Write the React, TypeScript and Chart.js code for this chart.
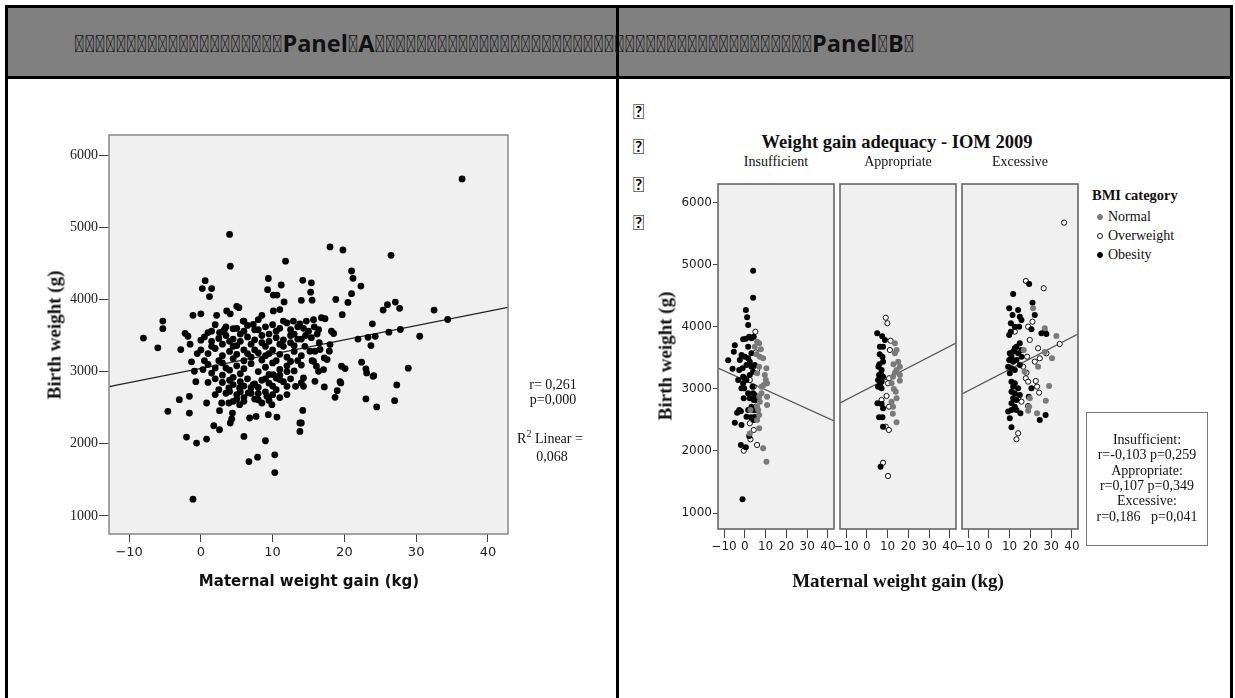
import React, { useEffect, useRef } from "react";
import { Chart, registerables } from "chart.js";
Chart.register(...registerables);

type Pt = [number, number];

// ---------- axis ticks ----------
const xTicks = [-10, 0, 10, 20, 30, 40];
const xTickLabels = ["\u221210", "0", "10", "20", "30", "40"];
const yTicks = [1000, 2000, 3000, 4000, 5000, 6000];
const yTickLabels = ["1000", "2000", "3000", "4000", "5000", "6000"];

// ---------- Panel A: all women ----------
const panelA: Pt[] = [
  [4, 4900], [4.1, 4460], [11.8, 4530], [0.6, 4260], [0.2, 4150], [1.5, 4150], [1.2, 4040], [9.4, 4290],
  [11.2, 4200], [14.2, 4265], [15.4, 4230], [9.3, 4135], [10.1, 4060], [10.6, 4060], [11.6, 3965], [15.5, 3990],
  [15.3, 4100], [-8, 3465], [-6, 3330], [-5.3, 3595], [-5.3, 3700], [-2.8, 3305], [-2.2, 3530], [-1.8, 3490],
  [-1.3, 3135], [-1.1, 3780], [0, 3800], [-0.9, 3005], [0, 3435], [1, 3540], [1.5, 3560], [2.6, 3540],
  [2.2, 3780], [3.6, 3840], [4.1, 3800], [5, 3905], [5.3, 3885], [3.3, 3585], [4.5, 3595], [5.9, 3700],
  [7.3, 3655], [8.5, 3780], [10.1, 3840], [11, 3860], [12, 3675], [12.9, 3700], [13.8, 3660], [14.7, 3700],
  [15.7, 3720],
  [36.4, 5670], [18, 4727], [19.8, 4685], [26.5, 4611], [21, 4394], [21.2, 4292], [22.3, 4185], [21, 4080],
  [20.5, 3959], [18.8, 4000], [19.7, 3788], [14, 3987], [25.4, 3852], [26, 3927], [27.1, 3963], [27.7, 3876],
  [32.5, 3852], [34.4, 3722], [23.9, 3662], [30.5, 3490], [26.2, 3546], [27.8, 3583], [23.3, 3475], [24.3, 3489],
  [21.9, 3451], [23.7, 3361], [18.2, 3560], [18.5, 3528], [16.8, 3746], [17.3, 3732], [18, 3375], [17.9, 3282],
  [17.6, 3167], [17.2, 3190], [16.6, 3306], [15.2, 3282], [15.9, 3282], [22.4, 3130], [23, 3038], [23.1, 2982],
  [24, 2935], [19.6, 3074], [20.1, 3042], [15.7, 3143], [16.1, 3074], [16.4, 3004], [17.1, 3028], [28.9, 3047],
  [27.3, 2815], [19.4, 2861], [14.3, 2913], [14, 2843], [14.3, 3600], [15, 3560], [15.8, 3620], [16.4, 3580],
  [14.6, 3500], [15.4, 3470], [16.2, 3520], [14, 3450],
  [15.9, 2865], [17.2, 2788], [14.2, 2462], [14, 2288], [18.7, 2643], [19, 2736], [19.5, 2843], [23, 2621],
  [24.5, 2510], [24.1, 2944], [27, 2597],
  [-1.1, 1232], [-4.6, 2449], [-3, 2611], [-1.6, 2657], [-1.6, 2426], [-2, 2093], [-0.6, 2010], [0.8, 2065],
  [-0.7, 2861], [0.3, 3028], [0.8, 2565], [2, 2681], [2.9, 2565], [2.6, 2458], [1.8, 2250], [2.6, 2194],
  [4.1, 2288], [4.3, 2343], [4.4, 2426], [6, 2102], [6.7, 1754], [7.9, 1815], [9, 2042], [10.3, 1847],
  [10.3, 1601], [10.6, 2370], [9.4, 2403], [9.9, 2542], [8.5, 2565], [6.8, 2357], [7.7, 2379], [3.9, 2773],
  [4, 2726], [4.5, 2820], [5.4, 2773], [3.9, 2565], [4.5, 2588], [5.4, 2542], [6, 2588], [6.6, 2704],
  [7.3, 2820], [8, 2695], [9.2, 2657], [10.1, 2958], [11, 2889], [12, 2796], [12, 2681], [13.8, 2171],
  [13.8, 2288], [13.2, 2796], [14.3, 2796],
  [2, 3650], [3.5, 3620], [5, 3600], [6.5, 3640], [7.5, 3580], [9, 3620], [10, 3650], [11, 3600],
  [12.5, 3580], [13.5, 3620], [6, 3700], [8, 3720], [0.5, 3480], [1.5, 3420], [2.5, 3460], [3.5, 3500],
  [4.5, 3450], [5.5, 3420], [6.5, 3480], [7.5, 3440], [8.5, 3500], [9.5, 3420], [10.5, 3470], [11.5, 3440],
  [12.5, 3500], [13.5, 3450], [3, 3380], [5, 3360], [7, 3380], [9, 3350], [11, 3380], [13, 3360],
  [0, 3300], [1, 3250], [2, 3320], [3, 3220], [4, 3280], [5, 3240], [6, 3300], [7, 3200],
  [8, 3260], [9, 3220], [10, 3300], [11, 3240], [12, 3200], [13, 3280], [14, 3220], [4.5, 3180],
  [8.5, 3160], [12.5, 3140], [6, 3150], [1, 3100], [2, 3050], [3, 3120], [4, 3020], [5, 3080],
  [6, 3040], [7, 3110], [8, 3000], [9, 3060], [10, 3120], [11, 3030], [12, 3080], [13, 3010],
  [14, 3090], [1.5, 2980], [5.5, 2970], [9.5, 2960], [2, 2900], [3, 2850], [4.5, 2920], [5.5, 2860],
  [6.5, 2900], [7.5, 2830], [8.5, 2880], [9.5, 2840], [10.5, 2910], [11.5, 2860], [12.5, 2900], [7, 2780],
  [10, 2800], [3.5, 2700], [5.5, 2720], [6, 2640], [7, 2700], [9, 2720], [10, 2680], [11, 2640],
  [5, 2620], [8, 2610],
  [1.5, 3350], [2.5, 3150], [3.5, 3050], [4.5, 3350], [5.5, 3520], [6.5, 3250], [7.5, 3300], [8.5, 3400],
  [9.5, 3250], [10.5, 3150], [11.5, 3350], [12.5, 3400], [13.5, 3150], [3, 2950], [4, 2880], [6, 2800],
  [8, 2780], [9, 2900], [11, 2950], [12, 3000], [5, 2680], [7.5, 2620], [9.5, 2600], [10.5, 2750],
  [3, 3550], [4, 3420], [6, 3560], [8, 3580], [9.5, 3520], [10.5, 3560], [11.5, 3700], [13, 3520],
  [14.5, 3350], [15.5, 3150], [16.5, 3400], [2.5, 2750], [1, 2850], [0.5, 3150], [-0.5, 3250], [-1.5, 3380],
];
const fitA: Pt[] = [[-12.8, 2792], [42.8, 3889]];

// ---------- Panel B: by weight gain adequacy and BMI ----------
const insufficientNormal: Pt[] = [
  [10.4, 1827], [8.8, 2043], [6.9, 2366], [10.7, 2742], [10.7, 2876], [10.4, 3334], [7.7, 3640], [6.9, 3737],
  [7.2, 3521], [8.8, 3495], [9.6, 3226], [10.1, 3145], [10.7, 3092], [9.1, 3065], [8, 3038], [8, 2930],
  [6.9, 2876], [7.2, 2796], [5.9, 2715], [6.4, 2662], [6.9, 2581], [5.9, 2500], [5.9, 3253], [6.9, 3360],
  [5.6, 3560], [4.8, 3683], [5.9, 3763], [2.7, 2662], [2.4, 2281],
];
const insufficientOverweight: Pt[] = [
  [5.1, 3924], [5.9, 3307], [4.3, 3038], [5.3, 2715], [2.4, 2447], [4.3, 2339], [2.7, 2189], [5.9, 2097],
  [-0.5, 2005], [4, 3360], [2.4, 3145], [5.3, 3590],
];
const insufficientObesity: Pt[] = [
  [4, 4908], [4, 4473], [0.5, 4275], [1.1, 4157], [1.6, 4033], [3.2, 3818], [2.1, 3844], [4.3, 3844],
  [-0.8, 3802], [0.5, 3812], [-4.8, 3705], [-5.3, 3602], [-8, 3463], [-5.9, 3328], [-2.7, 3307], [-0.8, 3092],
  [-1.6, 3011], [-0.5, 2850], [-2.7, 2662], [-1.9, 2640], [-3.7, 2618], [0.8, 2553], [-4.8, 2457], [-1.6, 2420],
  [2.1, 2242], [-1.9, 2097], [0.5, 2060], [-1.1, 1221], [4, 2662], [4.8, 2553], [5.3, 2662], [5.6, 2823],
  [4.8, 2904], [-1.6, 3549], [0, 3521], [1.6, 3495], [3.2, 3576], [2.4, 3441], [0.8, 3387], [3.2, 3360],
  [-0.8, 3199], [0.8, 3145], [2.4, 3226], [4, 3280], [4.8, 3387], [3.7, 3038], [4, 2930], [4.3, 2823],
  [3.2, 2715], [4.3, 2500], [2.9, 2544], [1.6, 3683], [-2.4, 3468], [-1.1, 3334], [-3.2, 3145], [-0.3, 3011],
  [1.6, 2930], [2.4, 2850], [1.6, 2662], [0, 3173],
];
const appropriateNormal: Pt[] = [
  [13.5, 3737], [14.3, 3629], [13.5, 3576], [15.1, 3441], [15.9, 3360], [14.3, 3307], [13.5, 3263], [15.9, 3226],
  [12.6, 3199], [11.9, 3092], [15.9, 3134], [13.9, 2957], [14.3, 2850], [11.9, 2796], [12.6, 2715], [14.3, 2462],
  [12.8, 3400], [13, 3000], [12.5, 2600],
];
const appropriateOverweight: Pt[] = [
  [9.1, 4150], [9.9, 4060], [11.4, 3779], [10.7, 3173], [9.5, 2887], [10.7, 2715], [9.1, 2392], [10.6, 2339],
  [7.8, 1811], [10.2, 1597], [11.1, 3629], [10.2, 3092], [7.1, 2823],
];
const appropriateObesity: Pt[] = [
  [5, 3899], [8.7, 3790], [6.3, 3683], [7.8, 3683], [7.5, 3521], [7.8, 3441], [7.1, 3307], [5.9, 3226],
  [6.6, 3173], [5.4, 3145], [7.1, 3118], [7.8, 3199], [6.3, 3065], [5.4, 3038], [7.1, 3011], [5.1, 2769],
  [7.1, 2758], [7.8, 2689], [5.9, 2544], [7.5, 2544], [7.8, 2392], [6.6, 1747], [6, 3400], [5.6, 3360],
  [6.8, 3250], [6.2, 3560], [7.4, 3850],
];
const excessiveNormal: Pt[] = [
  [21.3, 4302], [26.9, 3979], [32.5, 3855], [30.4, 3495], [26.9, 3597], [23.7, 3360], [29, 3049], [27.4, 2811],
  [19.7, 2850], [19.4, 2715], [23.2, 2608], [18.9, 2650], [16.8, 3629], [17.2, 3280],
];
const excessiveOverweight: Pt[] = [
  [36.2, 5683], [17.8, 4742], [26.4, 4625], [21, 4086], [18.9, 4005], [19.7, 3791], [34.1, 3726], [23.7, 3657],
  [27.7, 3576], [24.5, 3495], [22.1, 3441], [18.4, 3521], [16.5, 3360], [18.1, 3263], [17.8, 3173], [18.9, 3118],
  [22.6, 3129], [23.2, 3038], [24.2, 2941], [14.1, 2850], [15.7, 2796], [18.9, 2726], [14.1, 2286], [13.3, 2189],
  [12.5, 3924],
];
const excessiveObesity: Pt[] = [
  [19.4, 4694], [11.7, 4532], [21, 4392], [22.1, 4194], [9.8, 4302], [11.4, 4194], [14.1, 4275], [14.9, 4167],
  [15.7, 4113], [10.6, 4060], [12.5, 4005], [14.6, 4005], [10.6, 3924], [9.8, 3871], [25.3, 3899], [26.9, 3924],
  [27.7, 3887], [20.5, 3963], [14.9, 3737], [13.3, 3683], [12.5, 3657], [15.7, 3629], [14.1, 3576], [11.7, 3602],
  [10.1, 3576], [10.9, 3521], [9.8, 3468], [11.7, 3441], [13.3, 3468], [15.7, 3521], [14.9, 3387], [9.3, 3360],
  [10.9, 3334], [12.5, 3307], [10.1, 3253], [10.9, 3118], [12.5, 3092], [11.7, 3038], [14.1, 3011], [10.9, 2957],
  [12.5, 2930], [14.9, 2904], [11.7, 2850], [13.3, 2823], [10.9, 2769], [12.5, 2715], [10.9, 2662], [13.3, 2662],
  [9.3, 2635], [10.1, 2528], [10.9, 2383], [24.5, 2500], [27.3, 2581], [19.2, 2876], [15.2, 2608], [20.5, 3011],
];
const fitInsufficient: Pt[] = [[-12.9, 3339], [42.9, 2484]];
const fitAppropriate: Pt[] = [[-12.9, 2774], [42.9, 3742]];
const fitExcessive: Pt[] = [[-12.9, 2919], [42.9, 3887]];

const facetNames = ["Insufficient", "Appropriate", "Excessive"];
const bmiNames = ["Normal", "Overweight", "Obesity"];
const statLines = [
  "Insufficient:", "r=-0,103 p=0,259", "Appropriate:", "r=0,107 p=0,349", "Excessive:", "r=0,186\u00a0\u00a0 p=0,041",
];
const panelAStats = ["r= 0,261", "p=0,000"];

// ---------- helpers ----------
const SERIF = "'Liberation Serif', 'Times New Roman', serif";
const SANS = "'DejaVu Sans', sans-serif";
const toXY = (p: Pt[]) => p.map(([x, y]) => ({ x, y }));

const framePlugin = {
  id: "frame",
  beforeDraw(chart: any, _a: any, o: any) {
    const { ctx, chartArea: a } = chart;
    ctx.save();
    ctx.fillStyle = o.fill;
    ctx.fillRect(a.left, a.top, a.right - a.left, a.bottom - a.top);
    ctx.restore();
  },
  afterDraw(chart: any, _a: any, o: any) {
    const { ctx, chartArea: a } = chart;
    ctx.save();
    ctx.strokeStyle = o.stroke;
    ctx.lineWidth = o.lineWidth;
    ctx.strokeRect(a.left, a.top, a.right - a.left, a.bottom - a.top);
    ctx.restore();
  },
};

type ScaleOpts = {
  min: number; max: number; size: number; fontFamily: string; fontSize: number;
  tickLength: number; padding: number; display?: boolean;
};

function xScale(o: ScaleOpts) {
  return {
    type: "linear", min: o.min, max: o.max, display: o.display !== false,
    afterBuildTicks: (s: any) => { s.ticks = xTicks.map((v) => ({ value: v })); },
    afterFit: (s: any) => { if (o.display !== false) s.height = o.size; },
    ticks: {
      autoSkip: false, maxRotation: 0, color: "#222", padding: o.padding,
      font: { family: o.fontFamily, size: o.fontSize },
      callback: (_v: any, i: number) => xTickLabels[i],
    },
    grid: { display: true, drawOnChartArea: false, drawTicks: true, tickLength: o.tickLength, color: "#444", lineWidth: 1 },
    border: { display: false },
  };
}
function yScale(o: ScaleOpts) {
  return {
    type: "linear", min: o.min, max: o.max, display: o.display !== false,
    afterBuildTicks: (s: any) => { s.ticks = yTicks.map((v) => ({ value: v })); },
    afterFit: (s: any) => { if (o.display !== false) s.width = o.size; },
    ticks: {
      autoSkip: false, color: "#222", padding: o.padding,
      font: { family: o.fontFamily, size: o.fontSize },
      callback: (_v: any, i: number) => yTickLabels[i],
    },
    grid: { display: true, drawOnChartArea: false, drawTicks: true, tickLength: o.tickLength, color: "#444", lineWidth: 1 },
    border: { display: false },
  };
}

function ChartCanvas(props: { left: number; top: number; width: number; height: number; build: () => any }) {
  const ref = useRef<HTMLCanvasElement>(null);
  useEffect(() => {
    const chart = new Chart(ref.current as HTMLCanvasElement, props.build());
    return () => chart.destroy();
  }, []);
  return (
    <canvas
      ref={ref}
      width={props.width}
      height={props.height}
      style={{ position: "absolute", left: props.left, top: props.top, width: props.width, height: props.height }}
    />
  );
}

function pointsDs(p: Pt[], fill: string, border: string, bw: number, r: number) {
  return {
    type: "scatter", data: toXY(p), pointRadius: r, pointHoverRadius: r,
    pointBackgroundColor: fill, pointBorderColor: border, pointBorderWidth: bw, showLine: false,
  };
}
function fitDs(p: Pt[], color: string) {
  return {
    type: "scatter", data: toXY(p), showLine: true, borderColor: color, borderWidth: 1.2,
    pointRadius: 0, pointHoverRadius: 0, fill: false,
  };
}

function buildPanelA() {
  return {
    type: "scatter",
    data: { datasets: [pointsDs(panelA, "#000", "#000", 0, 3.4), fitDs(fitA, "#222")] },
    options: {
      responsive: false, animation: false, events: [],
      layout: { padding: { left: 0, top: 35, right: 92, bottom: 36 } },
      plugins: { legend: { display: false }, tooltip: { enabled: false }, frame: { fill: "#f0f0f0", stroke: "#888", lineWidth: 1.5 } },
      scales: {
        x: xScale({ min: -12.8, max: 42.8, size: 30, fontFamily: SANS, fontSize: 13, tickLength: 8, padding: 3 }),
        y: yScale({ min: 750, max: 6278, size: 79, fontFamily: SERIF, fontSize: 14, tickLength: 10, padding: 1 }),
      },
    },
    plugins: [framePlugin],
  };
}

function buildFacet(normal: Pt[], over: Pt[], obese: Pt[], fit: Pt[], first: boolean) {
  return () => ({
    type: "scatter",
    data: {
      datasets: [
        pointsDs(normal, "#7a7a7a", "#7a7a7a", 0, 3),
        pointsDs(obese, "#000", "#000", 0, 3),
        pointsDs(over, "#fff", "#111", 1, 2.6),
        fitDs(fit, "#555"),
      ],
    },
    options: {
      responsive: false, animation: false, events: [],
      layout: { padding: { left: first ? 0 : 10, top: 9, right: 10, bottom: 10 } },
      plugins: { legend: { display: false }, tooltip: { enabled: false }, frame: { fill: "#f0f0f0", stroke: "#666", lineWidth: 1.6 } },
      scales: {
        x: xScale({ min: -12.9, max: 42.9, size: 26, fontFamily: SANS, fontSize: 12, tickLength: 9, padding: 2 }),
        y: yScale({ min: 742, max: 6306, size: 88, fontFamily: SANS, fontSize: 12, tickLength: 5, padding: 1, display: first }),
      },
    },
    plugins: [framePlugin],
  });
}

function Txt(props: { x: number; y: number; children: any; style?: any; rotate?: number }) {
  return (
    <div
      style={{
        position: "absolute", left: props.x, top: props.y, whiteSpace: "nowrap", lineHeight: 1,
        transform: `translate(-50%, -50%)${props.rotate ? ` rotate(${props.rotate}deg)` : ""}`,
        ...props.style,
      }}
    >
      {props.children}
    </div>
  );
}

// private-use "symbol space" characters carried over from the source document
const TOFU = "\uF020";
function Tofu(props: { n: number }) {
  return <span style={{ fontFamily: "Roboto" }}>{TOFU.repeat(props.n)}</span>;
}

export default function App() {
  const serif14 = { fontFamily: SERIF, fontSize: 14, color: "#111" };
  return (
    <div style={{ position: "absolute", left: 0, top: 0, width: 1235, height: 698, overflow: "hidden", background: "#fff" }}>
      {/* table frame */}
      <div style={{ position: "absolute", left: 5, top: 5, width: 1228, height: 73, background: "#808080" }} />
      <div style={{ position: "absolute", left: 5, top: 5, width: 1228, height: 3, background: "#000" }} />
      <div style={{ position: "absolute", left: 5, top: 76, width: 1228, height: 3, background: "#000" }} />
      <div style={{ position: "absolute", left: 5, top: 5, width: 3, height: 700, background: "#000" }} />
      <div style={{ position: "absolute", left: 616, top: 5, width: 3, height: 700, background: "#000" }} />
      <div style={{ position: "absolute", left: 1230, top: 5, width: 3, height: 700, background: "#000" }} />
      <div
        style={{
          position: "absolute", left: 74, top: 44, transform: "translateY(-50%)", whiteSpace: "nowrap",
          fontFamily: "'Open Sans', sans-serif", fontWeight: 700, fontSize: 23.5, lineHeight: 1, color: "#111",
        }}
      >
        <Tofu n={20} />Panel<Tofu n={1} />A<Tofu n={42} />Panel<Tofu n={1} />B<Tofu n={1} />
      </div>

      {/* Panel B empty paragraphs, partly covered by the figure */}
      {[110, 145, 183, 221].map((y) => (
        <div key={y} style={{ position: "absolute", left: 633, top: y, transform: "translateY(-50%)", fontFamily: "Lato", fontSize: 21, lineHeight: 1 }}>
          {TOFU}
        </div>
      ))}
      <div style={{ position: "absolute", left: 644, top: 125, width: 584, height: 480, background: "#fff" }} />

      {/* Panel A */}
      <ChartCanvas left={30} top={100} width={570} height={500} build={buildPanelA} />
      <Txt x={54} y={335} rotate={-90} style={{ fontFamily: SERIF, fontWeight: 700, fontSize: 19, color: "#111" }}>
        Birth weight (g)
      </Txt>
      <Txt x={309} y={581} style={{ fontFamily: SANS, fontWeight: 700, fontSize: 15, color: "#111" }}>
        Maternal weight gain (kg)
      </Txt>
      <Txt x={553} y={385} style={serif14}>{panelAStats[0]}</Txt>
      <Txt x={553} y={400} style={serif14}>{panelAStats[1]}</Txt>
      <Txt x={550} y={437} style={serif14}>
        R<sup style={{ fontSize: 10, verticalAlign: "6px" }}>2</sup> Linear =
      </Txt>
      <Txt x={552} y={457} style={serif14}>0,068</Txt>

      {/* Panel B */}
      <ChartCanvas left={630} top={175} width={214} height={390}
        build={buildFacet(insufficientNormal, insufficientOverweight, insufficientObesity, fitInsufficient, true)} />
      <ChartCanvas left={830} top={175} width={136} height={390}
        build={buildFacet(appropriateNormal, appropriateOverweight, appropriateObesity, fitAppropriate, false)} />
      <ChartCanvas left={952} top={175} width={136} height={390}
        build={buildFacet(excessiveNormal, excessiveOverweight, excessiveObesity, fitExcessive, false)} />

      <Txt x={897} y={142} style={{ fontFamily: SERIF, fontWeight: 700, fontSize: 18.5, color: "#111" }}>
        Weight gain adequacy - IOM 2009
      </Txt>
      {facetNames.map((n, i) => (
        <Txt key={n} x={776 + i * 122} y={162} style={serif14}>{n}</Txt>
      ))}
      <Txt x={665} y={356} rotate={-90} style={{ fontFamily: SERIF, fontWeight: 700, fontSize: 19, color: "#111" }}>
        Birth weight (g)
      </Txt>
      <Txt x={898} y={580} style={{ fontFamily: SERIF, fontWeight: 700, fontSize: 19, color: "#111" }}>
        Maternal weight gain (kg)
      </Txt>

      {/* legend */}
      <div style={{ position: "absolute", left: 1092, top: 195, transform: "translateY(-50%)", fontFamily: SERIF, fontWeight: 700, fontSize: 14.5, lineHeight: 1, color: "#111", whiteSpace: "nowrap" }}>
        BMI category
      </div>
      {bmiNames.map((n, i) => {
        const y = 217 + i * 19;
        const marker =
          i === 0 ? { background: "#7a7a7a", border: "1px solid #7a7a7a" }
          : i === 1 ? { background: "#fff", border: "1px solid #111" }
          : { background: "#000", border: "1px solid #000" };
        return (
          <React.Fragment key={n}>
            <div style={{ position: "absolute", left: 1097, top: y - 3, width: 4, height: 4, borderRadius: "50%", ...marker }} />
            <div style={{ position: "absolute", left: 1108, top: y, transform: "translateY(-50%)", fontFamily: SERIF, fontSize: 14, lineHeight: 1, color: "#111", whiteSpace: "nowrap" }}>
              {n}
            </div>
          </React.Fragment>
        );
      })}

      {/* stats box */}
      <div style={{ position: "absolute", left: 1086, top: 412, width: 120, height: 132, border: "1.5px solid #777" }} />
      {statLines.map((s, i) => (
        <Txt key={i} x={1147} y={440 + i * 15.3} style={serif14}>{s}</Txt>
      ))}
    </div>
  );
}
